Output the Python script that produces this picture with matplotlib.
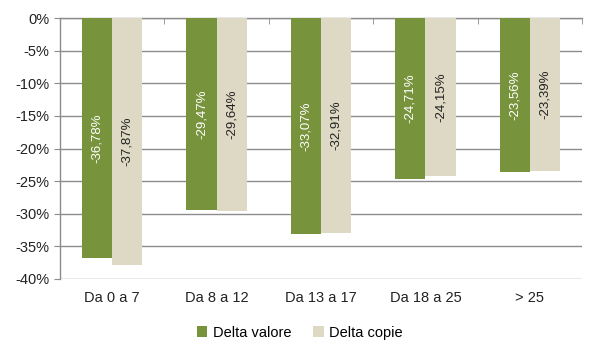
import matplotlib.pyplot as plt
import numpy as np
from matplotlib.ticker import FixedLocator, FuncFormatter

categories = ["Da 0 a 7", "Da 8 a 12", "Da 13 a 17", "Da 18 a 25", "> 25"]
delta_valore = [-36.78, -29.47, -33.07, -24.71, -23.56]
delta_copie = [-37.87, -29.64, -32.91, -24.15, -23.39]
series_names = ["Delta valore", "Delta copie"]

green = "#77933C"
beige = "#DDD9C4"
grid_gray = "#8C8C8C"

plt.rcParams["font.family"] = ["Liberation Sans", "DejaVu Sans"]

fig = plt.figure(figsize=(6, 3.6), dpi=100)
ax = fig.add_axes([0.1, 0.225, 0.87, 0.725])

x = np.arange(len(categories))
w = 0.29
b1 = ax.bar(x - w / 2, delta_valore, w, color=green, label=series_names[0], zorder=3)
b2 = ax.bar(x + w / 2, delta_copie, w, color=beige, label=series_names[1], zorder=3)


def fmt(v):
    return f"{v:.2f}%".replace(".", ",")


# value labels centred inside the bars, rotated
for rect, v in zip(b1, delta_valore):
    ax.text(rect.get_x() + rect.get_width() / 2, v / 2, fmt(v), rotation=90,
            ha="center", va="center", color="white", fontsize=9.5, zorder=4)
for rect, v in zip(b2, delta_copie):
    ax.text(rect.get_x() + rect.get_width() / 2, v / 2, fmt(v), rotation=90,
            ha="center", va="center", color="#222222", fontsize=9.5, zorder=4)

ax.set_ylim(-40, 0)
ax.set_xlim(-0.5, len(categories) - 0.5)
ax.set_yticks(np.arange(-40, 1, 5))
ax.yaxis.set_major_formatter(FuncFormatter(lambda v, p: f"{v:.0f}%"))
ax.grid(axis="y", color=grid_gray, linewidth=1, zorder=0)

ax.set_xticks(x)
ax.set_xticklabels(categories)
ax.xaxis.set_minor_locator(FixedLocator(np.arange(0.5, len(categories), 1)))
ax.tick_params(axis="x", which="major", length=0, pad=9, labelsize=10.5, labelcolor="#222222")
ax.tick_params(axis="x", which="minor", top=True, bottom=False, direction="in",
               length=4, color=grid_gray)
ax.tick_params(axis="y", length=4, color=grid_gray, labelsize=10.5, labelcolor="#222222")

for s in ["right", "bottom"]:
    ax.spines[s].set_visible(False)
for s in ["left", "top"]:
    ax.spines[s].set_color(grid_gray)
    ax.spines[s].set_linewidth(1)

fig.legend(loc="lower center", bbox_to_anchor=(0.5, 0.02), ncol=2, frameon=False,
           fontsize=10.5, handlelength=0.7, handleheight=0.7, handletextpad=0.4,
           columnspacing=1.5)

fig.savefig("out.png")
